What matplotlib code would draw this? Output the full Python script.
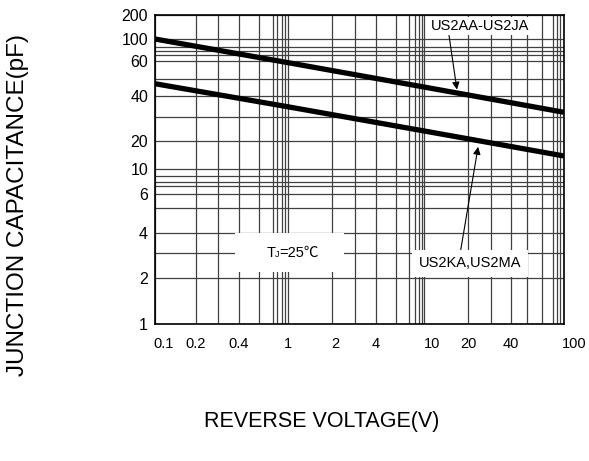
import numpy as np
import matplotlib.pyplot as plt
from matplotlib.transforms import ScaledTranslation

plt.rcParams['font.family'] = ['Liberation Sans', 'DejaVu Sans']

# values
voltage = [0.1, 1, 10, 100]
cap_aa_ja = [100, 59, 45, 32]
cap_ka_ma = [47, 34.5, 23.7, 13.8]

x_ticks = [0.1, 0.2, 0.4, 1, 2, 4, 10, 20, 40, 100]
x_labels = ['0.1', '0.2', '0.4', '1', '2', '4', '10', '20', '40', '100']
y_ticks = [1, 2, 4, 6, 10, 20, 40, 60, 100, 200]
y_labels = ['1', '2', '4', '6', '10', '20', '40', '60', '100', '200']

# the printed graph paper is no clean log grid, so map each grid value
# to where its line sits on the sheet
x_grid = [0.1, 0.2, 0.3, 0.4, 0.5, 0.6, 0.7, 0.8, 0.9,
          1, 2, 3, 4, 5, 6, 7, 8, 9,
          10, 20, 30, 40, 50, 60, 70, 80, 90, 100]
x_paper = [0, 41, 63, 84, 104, 118, 122, 127, 130,
           133, 177, 200, 221, 241, 254, 260, 264, 267,
           269, 313, 336, 356, 372, 387, 398, 402, 405, 409]
y_grid = [1, 2, 3, 4, 5, 6, 7, 8, 9,
          10, 20, 30, 40, 50, 60, 70, 80, 90, 100, 200]
y_paper = [0, 46, 71, 91, 116, 130, 138, 142, 148,
           155, 183, 207, 228, 245, 263, 269, 273, 277, 285, 309]


def paper_scale(vals, pos):
    lv = np.log10(vals)

    def fwd(v):
        return np.interp(np.log10(np.clip(v, 1e-9, None)), lv, pos)

    def inv(p):
        return 10 ** np.interp(p, pos, lv)
    return fwd, inv


fig = plt.figure(figsize=(5.89, 4.61), dpi=100)
ax = fig.add_axes([155 / 589, 137 / 461, 409 / 589, 309 / 461])

ax.set_xscale('function', functions=paper_scale(x_grid, x_paper))
ax.set_yscale('function', functions=paper_scale(y_grid, y_paper))
ax.set_xlim(0.1, 100)
ax.set_ylim(1, 200)

ax.set_xticks(x_grid, minor=True)
ax.set_yticks(y_grid, minor=True)
ax.set_xticks(x_ticks, labels=x_labels)
ax.set_yticks(y_ticks, labels=y_labels)
ax.tick_params(which='both', length=0)
ax.tick_params(axis='x', pad=9, labelsize=10.5)
ax.tick_params(axis='y', pad=5, labelsize=11.5)
ax.grid(which='both', color='#404040', lw=0.9)
ax.set_axisbelow(True)
for s in ax.spines.values():
    s.set_linewidth(1.2)

# labels on the sheet sit a little right of their lines
shift = {'0.1': 9, '2': 3, '10': 8, '100': 10}
for lab in ax.get_xticklabels():
    dx = shift.get(lab.get_text(), 0)
    if dx:
        lab.set_transform(lab.get_transform() + ScaledTranslation(dx / 100, 0, fig.dpi_scale_trans))

ax.plot(voltage, cap_aa_ja, color='k', lw=3.8, solid_capstyle='butt', zorder=3)
ax.plot(voltage, cap_ka_ma, color='k', lw=3.8, solid_capstyle='butt', zorder=3)

arrow = dict(arrowstyle='-|>', color='k', lw=0.8, mutation_scale=11, shrinkA=0, shrinkB=0)
ax.annotate('US2AA-US2JA', xy=(16.8, 43.5), xycoords='data',
            xytext=(0.795, 0.964), textcoords='axes fraction',
            ha='center', va='center', fontsize=10.5, zorder=4,
            bbox=dict(boxstyle='square,pad=0.15', fc='white', ec='none'),
            arrowprops=dict(arrow, relpos=(0.18, 0)))
ax.annotate('US2KA,US2MA', xy=(23.9, 17.3), xycoords='data',
            xytext=(0.770, 0.197), textcoords='axes fraction',
            ha='center', va='center', fontsize=10.5, zorder=4,
            bbox=dict(boxstyle='square,pad=0.45', fc='white', ec='none'),
            arrowprops=dict(arrow, relpos=(0.4, 1)))

# T_J = 25 degC, built from pieces on a white patch
ax.text(0.330, 0.230, '\u2002' * 12, transform=ax.transAxes,
        ha='center', va='center', fontsize=10, zorder=4,
        bbox=dict(boxstyle='square,pad=0.9', fc='white', ec='none'))
t1 = ax.text(0.272, 0.230, 'T', transform=ax.transAxes, ha='left', va='center',
             fontsize=10.5, zorder=5)
t2 = ax.annotate('J', xy=(1, 0), xycoords=t1, xytext=(0, 0.5), textcoords='offset points',
                 ha='left', va='bottom', fontsize=6.5, zorder=5)
ax.annotate('=25\u2103', xy=(1, 0), xycoords=(t2, t1), ha='left', va='bottom',
            fontsize=10.5, family=['Liberation Sans', 'Noto Sans CJK SC'], zorder=5)

fig.text(322 / 589, 1 - 422 / 461, 'REVERSE VOLTAGE(V)', ha='center', va='center', fontsize=15.5)
fig.text(18 / 589, 1 - 205 / 461, 'JUNCTION CAPACITANCE(pF)', ha='center', va='center',
         rotation=90, fontsize=17.5)

fig.savefig('out.png', dpi=100)
